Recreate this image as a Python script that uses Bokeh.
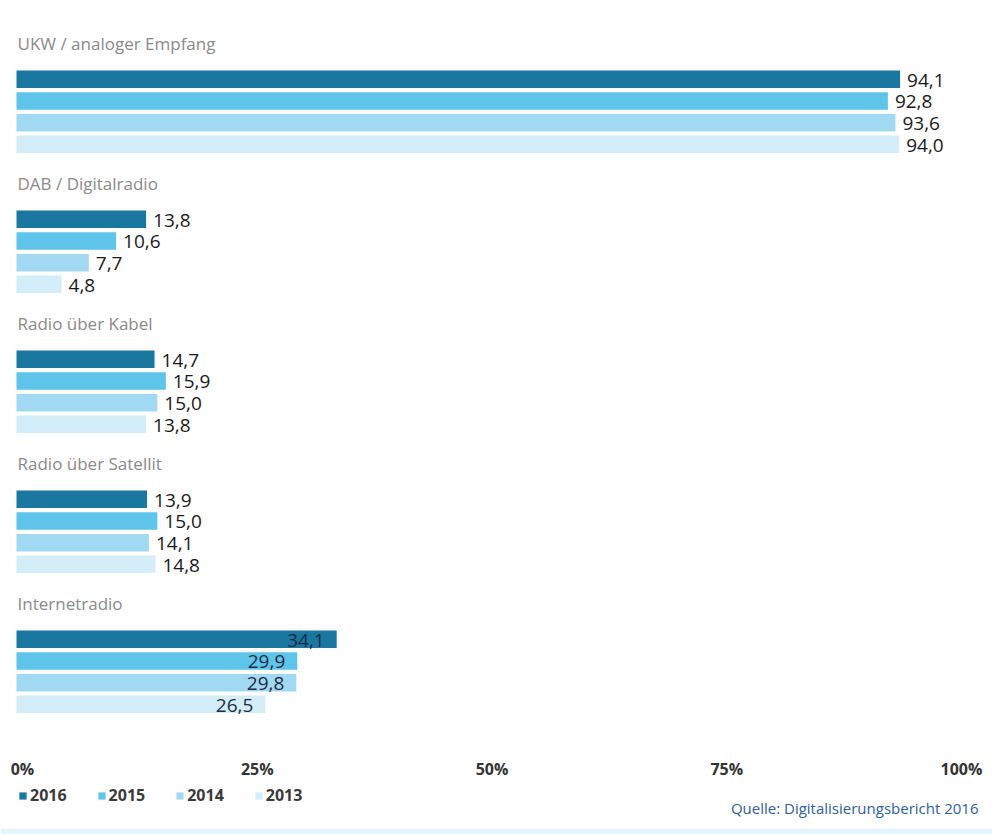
from bokeh.plotting import figure
from bokeh.models import Range1d, ColumnDataSource, Legend, LegendItem, Label
from bokeh.core.properties import value
from bokeh.embed import file_html
from bokeh.resources import INLINE

# ---- data ----
categories = ["UKW / analoger Empfang", "DAB / Digitalradio", "Radio über Kabel",
              "Radio über Satellit", "Internetradio"]
years = ["2016", "2015", "2014", "2013"]
v2016 = [94.1, 13.8, 14.7, 13.9, 34.1]
v2015 = [92.8, 10.6, 15.9, 15.0, 29.9]
v2014 = [93.6, 7.7, 15.0, 14.1, 29.8]
v2013 = [94.0, 4.8, 13.8, 14.8, 26.5]
tick_values = [0, 25, 50, 75, 100]
tick_labels = ["0%", "25%", "50%", "75%", "100%"]
source_text = "Quelle: Digitalisierungsbericht 2016"

# ---- style ----
colors = ["#1a77a0", "#5ec4ea", "#a2d9f2", "#d4eef9"]
label_inside = [False, False, False, False, True]
FONT = "Open Sans"

W, H = 992, 834
px_per_unit = 9.39
x0_px = 16
p = figure(width=W, height=H, output_backend="svg", toolbar_location=None,
           x_range=Range1d(-x0_px / px_per_unit, (W - x0_px) / px_per_unit),
           y_range=Range1d(H, 0), min_border=0, outline_line_color=None)
p.xaxis.visible = False
p.yaxis.visible = False
p.grid.visible = False
p.background_fill_color = "white"
p.border_fill_color = "white"

series = [v2016, v2015, v2014, v2013]
group_top = 70.0
group_pitch = 140.0
row_pitch = 21.7
bar_h = 17.5

renderers = []
for s, (vals, col) in enumerate(zip(series, colors)):
    ys = [group_top + g * group_pitch + s * row_pitch + bar_h / 2 for g in range(len(categories))]
    src = ColumnDataSource(dict(y=ys, right=vals))
    r = p.hbar(y="y", left=0, right="right", height=bar_h, source=src,
               fill_color=col, line_color=None)
    renderers.append(r)
    out_x, out_y, out_t, in_x, in_y, in_t = [], [], [], [], [], []
    for g, v in enumerate(vals):
        t = f"{v:.1f}".replace(".", ",")
        if label_inside[g]:
            in_x.append(v); in_y.append(ys[g]); in_t.append(t)
        else:
            out_x.append(v); out_y.append(ys[g]); out_t.append(t)
    p.text(x=out_x, y=out_y, text=out_t, x_offset=7, y_offset=1,
           text_font=value(FONT), text_font_size="19px", text_color="#1a1a1a",
           text_align="left", text_baseline="middle")
    p.text(x=in_x, y=in_y, text=in_t, x_offset=-12, y_offset=1,
           text_font=value(FONT), text_font_size="19px", text_color="#1d2b44",
           text_align="right", text_baseline="middle")

# category titles
title_y = [group_top - 27 + g * group_pitch for g in range(len(categories))]
p.text(x=[0] * len(categories), y=title_y, text=categories, x_offset=1,
       text_font=value(FONT), text_font_size="17px", text_color="#8a8a8a",
       text_align="left", text_baseline="middle")

# x tick labels
p.text(x=tick_values, y=[768] * len(tick_values), text=tick_labels, x_offset=6,
       text_font=value(FONT), text_font_size="16px", text_color="#333333",
       text_font_style="bold", text_align="center", text_baseline="middle")

# legend
legend = Legend(items=[LegendItem(label=y, renderers=[r]) for y, r in zip(years, renderers)],
                orientation="horizontal", location=(18, 28),
                glyph_width=9, glyph_height=9, label_standoff=3, spacing=30,
                padding=0, margin=0, border_line_alpha=0, background_fill_alpha=0,
                label_text_font=FONT, label_text_font_size="16px",
                label_text_font_style="bold",
                label_text_color="#3a3a3a", label_height=16)
p.add_layout(legend, "center")

# source
p.add_layout(Label(x=978, y=H - 807, x_units="screen", y_units="screen",
                   text=source_text, text_align="right", text_baseline="middle",
                   text_font=FONT, text_font_size="15px", text_color="#2e5e9e"))

# bottom band
p.quad(left=[-x0_px / px_per_unit], right=[(W - x0_px) / px_per_unit],
       top=[828], bottom=[834], fill_color="#e2f6fc", line_color=None)

open("out.html", "w").write(file_html(p, INLINE))
